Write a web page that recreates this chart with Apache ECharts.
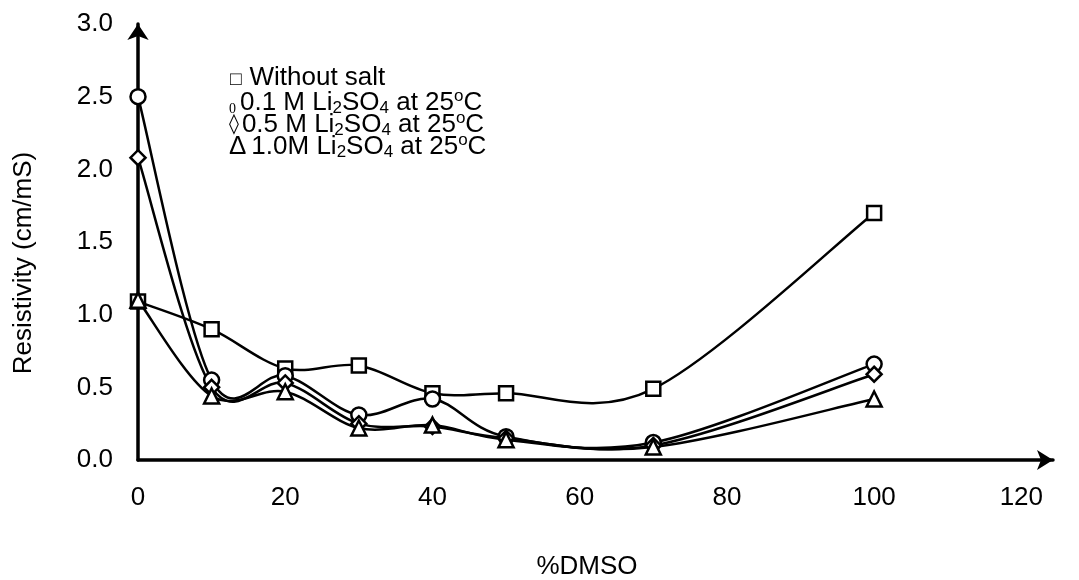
<!DOCTYPE html>
<html><head><meta charset="utf-8">
<script src="https://cdn.jsdelivr.net/npm/echarts@6/dist/echarts.min.js"></script>
<style>html,body{margin:0;padding:0;background:#fff}#c{width:1079px;height:580px}</style>
</head><body><div id="c"></div>
<script>
const xValues = [0, 10, 20, 30, 40, 50, 70, 100];
const withoutSalt = [1.09, 0.90, 0.63, 0.65, 0.46, 0.46, 0.49, 1.70];
const li01 = [2.50, 0.55, 0.58, 0.31, 0.42, 0.16, 0.12, 0.66];
const li05 = [2.08, 0.50, 0.53, 0.25, 0.23, 0.15, 0.10, 0.59];
const li10 = [1.10, 0.44, 0.47, 0.22, 0.24, 0.14, 0.09, 0.42];
const xTicks = [0, 20, 40, 60, 80, 100, 120];
const yTicks = [0, 0.5, 1.0, 1.5, 2.0, 2.5, 3.0];

const font = 'Liberation Sans, Arial, sans-serif';
const FS = 26;

// Excel-like smoothed curve: one bezier segment per data item, via the axis scales (api.coord)
function curveSeries(vals) {
  const n = xValues.length;
  const data = [];
  for (let i = 0; i < n - 1; i++) {
    const p = Math.max(i - 1, 0), q = Math.min(i + 2, n - 1);
    data.push([xValues[i], vals[i], xValues[i + 1], vals[i + 1],
               xValues[p], vals[p], xValues[q], vals[q]]);
  }
  return {
    type: 'custom', data, z: 2, silent: true,
    encode: { x: [0, 2], y: [1, 3] },
    renderItem: function (params, api) {
      const a = api.coord([api.value(0), api.value(1)]);
      const b = api.coord([api.value(2), api.value(3)]);
      const pr = api.coord([api.value(4), api.value(5)]);
      const nx = api.coord([api.value(6), api.value(7)]);
      const t = 1 / 6;
      return {
        type: 'bezierCurve',
        shape: {
          x1: a[0], y1: a[1], x2: b[0], y2: b[1],
          cpx1: a[0] + (b[0] - pr[0]) * t, cpy1: a[1] + (b[1] - pr[1]) * t,
          cpx2: b[0] - (nx[0] - a[0]) * t, cpy2: b[1] - (nx[1] - a[1]) * t
        },
        style: { stroke: '#000', lineWidth: 2.5, fill: null }
      };
    }
  };
}
function markerSeries(name, vals, symbol, size) {
  return {
    name, type: 'scatter', symbol, symbolSize: size, z: 5,
    data: xValues.map((x, i) => [x, vals[i]]),
    itemStyle: { color: '#fff', borderColor: '#000', borderWidth: 2.5, opacity: 1 }
  };
}

const big = { fontFamily: font, fontSize: FS, fill: '#000' };
const sub = { fontFamily: font, fontSize: 17, fill: '#000', padding: [11, 0, 0, 0] };
const sup = { fontFamily: font, fontSize: 17, fill: '#000', padding: [0, 0, 13, 0] };

const chart = echarts.init(document.getElementById('c'));
chart.setOption({
  backgroundColor: '#fff',
  animation: false,
  grid: { left: 138, right: 26, top: 24, bottom: 120 },
  xAxis: {
    type: 'value', min: 0, max: 124.3, interval: 20,
    axisLine: { lineStyle: { color: '#000', width: 3.5 }, symbol: ['none', 'arrow'], symbolSize: [15, 16], symbolOffset: [0, 0] },
    axisTick: { show: false },
    splitLine: { show: false },
    axisLabel: { fontFamily: font, fontSize: FS, color: '#000', margin: 25, showMaxLabel: false }
  },
  yAxis: {
    type: 'value', min: 0, max: 3, interval: 0.5,
    axisLine: { show: true, onZero: false, lineStyle: { color: '#000', width: 3.5 }, symbol: ['none', 'arrow'], symbolSize: [16, 16], symbolOffset: [0, 0] },
    axisTick: { show: false },
    splitLine: { show: false },
    axisLabel: { fontFamily: font, fontSize: FS, color: '#000', margin: 25, formatter: v => v.toFixed(1) }
  },
  series: [
    curveSeries(withoutSalt), curveSeries(li01), curveSeries(li05), curveSeries(li10),
    markerSeries('Without salt', withoutSalt, 'rect', 14),
    markerSeries('0.1 M', li01, 'circle', 15),
    markerSeries('0.5 M', li05, 'diamond', 15),
    markerSeries('1.0 M', li10, 'triangle', 15)
  ],
  graphic: [
    { type: 'text', x: 24, y: 263, rotation: Math.PI / 2,
      style: { text: 'Resistivity (cm/mS)', fontFamily: font, fontSize: FS, fill: '#000', align: 'center', verticalAlign: 'middle' } },
    { type: 'text', x: 587, y: 567,
      style: { text: '%DMSO', fontFamily: font, fontSize: FS, fill: '#000', align: 'center', verticalAlign: 'middle' } },
    { type: 'text', left: 230, top: 65, style: { rich: {
      s: { fontFamily: font, fontSize: 19, fill: '#000', padding: [4, 8, 0, 0] }, t: big },
      text: '{s|□}{t|Without salt}' } },
    { type: 'text', left: 229, top: 88, style: { rich: {
      z: { fontFamily: 'Liberation Serif, serif', fontSize: 14, fill: '#000', padding: [12, 4, 0, 0] },
      t: big, b: sub, p: sup },
      text: '{z|0}{t|0.1 M Li}{b|2}{t|SO}{b|4}{t| at 25}{p|o}{t|C}' } },
    { type: 'text', left: 229, top: 110, style: { rich: {
      d: { fontFamily: 'DejaVu Sans, sans-serif', fontSize: 20, fill: '#000', padding: [0, 3, 0, 0] },
      t: big, b: sub, p: sup },
      text: '{d|◊}{t|0.5 M Li}{b|2}{t|SO}{b|4}{t| at 25}{p|o}{t|C}' } },
    { type: 'text', left: 229, top: 132, style: { rich: { t: big, b: sub, p: sup,
      g: { fontFamily: font, fontSize: FS, fill: '#000', padding: [0, 5, 0, 0] } },
      text: '{g|Δ}{t|1.0M Li}{b|2}{t|SO}{b|4}{t| at 25}{p|o}{t|C}' } }
  ]
});
</script></body></html>
